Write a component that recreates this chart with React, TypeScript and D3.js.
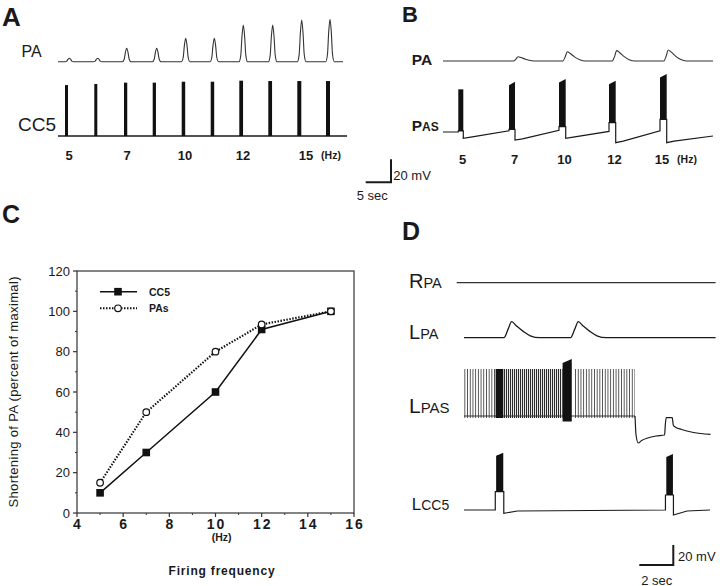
import React from "react";
import * as d3 from "d3";

const FONT = "'Liberation Sans', Arial, Helvetica, sans-serif";

// ---------- Panel C data ----------
const freqHz = [5, 7, 10, 12, 15];
const cc5Shortening = [10, 30, 60, 91, 100];
const pasShortening = [15, 50, 80, 93.5, 100];
const xTicksC = [4, 6, 8, 10, 12, 14, 16];
const xMinorC = [5, 7, 9, 11, 13, 15];
const yTicksC = [0, 20, 40, 60, 80, 100, 120];
const yMinorC = [10, 30, 50, 70, 90, 110];

// ---------- Panel A data (time in s, voltage in mV) ----------
const aFreqLabels = ["5", "7", "10", "12", "15"];
const aLabelTimes = [2.2, 13.8, 25.4, 37, 49.6];
const aPaPeakTimes = [2.26, 7.94, 13.74, 19.74, 25.54, 31.26, 37.06, 42.94, 48.74, 54.4];
const aPaPeakAmps = [3, 3, 11.7, 11.7, 20.3, 20.3, 31.9, 31.9, 36.3, 36.9];
const aCc5SpikeTimes = [1.4, 7.26, 13.2, 18.94, 24.74, 30.54, 36.26, 42.06, 47.86, 53.6];
const aCc5SpikeAmps = [44.3, 45.2, 46.4, 46.4, 47.2, 47.2, 48.1, 47.8, 47.8, 47.8];
const aCc5SpikeDur = [0.5, 0.5, 0.55, 0.55, 0.6, 0.6, 0.65, 0.65, 0.7, 0.7];

// ---------- Panel B data ----------
const bFreqLabels = ["5", "7", "10", "12", "15"];
const bLabelTimes = [3.9, 14.3, 24.3, 34.3, 43.8];
const bPaPeakTimes = [15, 24.86, 34.74, 45.06];
const bPaPeakAmps = [3.7, 8.1, 9, 9.6];
const bBurstStart = [3.06, 13.2, 23.2, 33.2, 43.4];
const bBurstDur = [1.0, 1.2, 1.34, 1.34, 1.34];
const bBurstTop = [37.1, 43.7, 46.1, 44.6, 50.4];
const bBurstPlateau = [0.9, 2.3, 4.6, 8.1, 11];
const bBurstPre = [0, 1, 1.5, 0.5, 1];
const bBurstAfter = [-5.5, -7, -5.5, -9.3, -9.3];
const bBurstRecovered = [-4.5, -6, -4.5, -8, -8];
const bTraceEndLevel = -3.5;

// ---------- Panel D data ----------
const dLpaPeakTimes = [2.8, 6.72];
const dLpaPeakAmps = [16, 16];
const dLpasSparse = [[0, 1.86], [6.53, 10.06]];
const dLpasDense = [[2.31, 5.8]];
const dLpasBlack = [[1.86, 2.31, 46, 46, -3], [5.8, 6.34, 52, 56, -6.5]];
const dLpasTailT = [10.06, 10.12, 10.25, 10.45, 10.8, 11.3, 11.8, 11.84, 11.9, 12.25, 12.31, 12.4, 12.8, 13.5, 14.5];
const dLpasTailV = [-1, -20, -28, -25.5, -23, -21, -20, -10, -2.7, -2.7, -10, -11.7, -14.5, -17.5, -19.3];
const dCc5BurstStart = [1.84, 11.85];
const dCc5BurstEnd = [2.34, 12.32];
const dCc5BurstTop = [57.3, 56];
const dCc5BurstPlateau = [18.3, 15];
const dCc5BurstAfter = [-3.3, -5];
const dCc5BurstRecovered = [-1, -1];

type P = [number, number];

function peakTrace(t0: number, t1: number, times: number[], amps: number[], offs: number[], shape: number[]): P[] {
  const pts: P[] = [[t0, 0]];
  times.forEach((t, i) => {
    offs.forEach((o, k) => pts.push([t + o, amps[i] * shape[k]]));
  });
  pts.push([t1, 0]);
  return pts;
}

function burstTrace(t0: number, t1: number, starts: number[], ends: number[], pre: number[], plateau: number[], after: number[], recovered: number[], recT: number, endLevel: number): P[] {
  const pts: P[] = [[t0, pre[0]]];
  starts.forEach((s, i) => {
    const e = ends[i];
    pts.push([s, pre[i]], [s, plateau[i]], [e, plateau[i]], [e, after[i]], [e + recT, recovered[i]]);
    const nextT = i < starts.length - 1 ? starts[i + 1] : t1;
    const nextV = i < starts.length - 1 ? pre[i + 1] : endLevel;
    pts.push([nextT, nextV]);
  });
  return pts;
}

export default function App() {
  // ---- Panel C scales ----
  const xC = d3.scaleLinear().domain([4, 16]).range([77, 354]);
  const yC = d3.scaleLinear().domain([0, 120]).range([513, 271]);
  const lineC = d3.line<number>().x((_, i) => xC(freqHz[i])).y((d) => yC(d));

  // ---- Panel A scales ----
  const xA = d3.scaleLinear().domain([0, 57]).range([58, 343]);
  const yApa = d3.scaleLinear().domain([0, 40]).range([61.7, 15.7]);
  const yAcc = d3.scaleLinear().domain([0, 40]).range([136, 90]);
  const lineApa = d3.line<P>().x((d) => xA(d[0])).y((d) => yApa(d[1])).curve(d3.curveMonotoneX);
  const aPaPts = peakTrace(0, 57, aPaPeakTimes, aPaPeakAmps, [-0.85, -0.5, -0.27, 0, 0.27, 0.5, 0.85], [0, 0.18, 0.68, 1, 0.68, 0.18, 0]);

  // ---- Panel B scales ----
  const xB = d3.scaleLinear().domain([0, 54]).range([443, 713]);
  const yBpa = d3.scaleLinear().domain([0, 40]).range([61, 15]);
  const yBpas = d3.scaleLinear().domain([0, 40]).range([132, 86]);
  const lineBpa = d3.line<P>().x((d) => xB(d[0])).y((d) => yBpa(d[1])).curve(d3.curveMonotoneX);
  const bPaPts = peakTrace(0, 54, bPaPeakTimes, bPaPeakAmps, [-0.9, -0.45, 0, 0.6, 1.5, 2.5, 3.6], [0, 0.4, 1, 0.8, 0.42, 0.13, 0]);
  const bEnds = bBurstStart.map((s, i) => s + bBurstDur[i]);
  const bPasPts = burstTrace(0, 54, bBurstStart, bEnds, bBurstPre, bBurstPlateau, bBurstAfter, bBurstRecovered, 1.5, bTraceEndLevel);
  const lineBpas = d3.line<P>().x((d) => xB(d[0])).y((d) => yBpas(d[1]));

  // ---- Panel D scales ----
  const xD = d3.scaleLinear().domain([0, 15]).range([464, 719]);
  const yDrpa = d3.scaleLinear().domain([0, 20]).range([282.7, 262.7]);
  const yDlpa = d3.scaleLinear().domain([0, 20]).range([337.7, 317.7]);
  const yDlpas = d3.scaleLinear().domain([0, 20]).range([415, 395]);
  const yDcc = d3.scaleLinear().domain([0, 20]).range([510, 490]);
  const lineDlpa = d3.line<P>().x((d) => xD(d[0])).y((d) => yDlpa(d[1])).curve(d3.curveMonotoneX);
  const dLpaPts = peakTrace(0, 14.8, dLpaPeakTimes, dLpaPeakAmps, [-0.45, -0.2, 0, 0.3, 0.7, 1.1, 1.65], [0, 0.55, 1, 0.72, 0.38, 0.12, 0]);
  const dLpasTail: P[] = dLpasTailT.map((t, i) => [t, dLpasTailV[i]]);
  const lineDlpas = d3.line<P>().x((d) => xD(d[0])).y((d) => yDlpas(d[1])).curve(d3.curveMonotoneX);
  const dCcPts = burstTrace(0, 14.47, dCc5BurstStart, dCc5BurstEnd, [0, 0], dCc5BurstPlateau, dCc5BurstAfter, dCc5BurstRecovered, 0.8, 0);
  const lineDcc = d3.line<P>().x((d) => xD(d[0])).y((d) => yDcc(d[1]));

  const ink = "#1a1a1a";

  return (
    <svg width={720} height={586} style={{ position: "absolute", left: 0, top: 0, background: "#fff" }} fontFamily={FONT}>
      <defs>
        <pattern id="sparse" width={2.7} height={10} patternUnits="userSpaceOnUse">
          <rect x={0} y={0} width={0.9} height={10} fill="#4a4a4a" />
        </pattern>
        <pattern id="dense" width={2} height={10} patternUnits="userSpaceOnUse">
          <rect x={0} y={0} width={1.1} height={10} fill="#2a2a2a" />
        </pattern>
      </defs>
      <rect x={0} y={0} width={720} height={586} fill="#fff" />

      {/* Panel letters */}
      <text x={2} y={26} fontSize={26} fontWeight="bold" fill={ink}>A</text>
      <text x={402} y={22} fontSize={22} fontWeight="bold" fill={ink}>B</text>
      <text x={2} y={223} fontSize={25} fontWeight="bold" fill={ink}>C</text>
      <text x={402} y={240} fontSize={25} fontWeight="bold" fill={ink}>D</text>

      {/* ===== Panel A ===== */}
      <text x={21.5} y={56.7} fontSize={16} fill={ink}>PA</text>
      <text x={18} y={130.7} fontSize={19} fill={ink}>CC5</text>
      <path d={lineApa(aPaPts) || ""} fill="none" stroke="#333" strokeWidth={1.1} />
      <line x1={xA(0)} x2={xA(57.8)} y1={yAcc(0)} y2={yAcc(0)} stroke={ink} strokeWidth={1.3} />
      {aCc5SpikeTimes.map((t, i) => (
        <rect key={i} x={xA(t)} y={yAcc(aCc5SpikeAmps[i])} width={xA(t + aCc5SpikeDur[i]) - xA(t) + 0.5} height={yAcc(0) - yAcc(aCc5SpikeAmps[i])} fill="#111" />
      ))}
      {aFreqLabels.map((l, i) => (
        <text key={i} x={xA(aLabelTimes[i])} y={160} fontSize={13} fontWeight="bold" textAnchor="middle" fill={ink}>{l}</text>
      ))}
      <text x={331} y={159} fontSize={10.5} fontWeight="bold" textAnchor="middle" fill={ink}>(Hz)</text>

      {/* scale bar A/B */}
      <path d="M365.7,182.3 H391 V159.3" fill="none" stroke={ink} strokeWidth={2} />
      <text x={393.3} y={179.7} fontSize={13} fill={ink}>20 mV</text>
      <text x={356.7} y={199.5} fontSize={13} fill={ink}>5 sec</text>

      {/* ===== Panel B ===== */}
      <text x={411.7} y={65} fontSize={15.5} fontWeight="bold" fill={ink}>PA</text>
      <text x={411.7} y={131} fill={ink} fontWeight="bold"><tspan fontSize={15.5}>P</tspan><tspan fontSize={12}>AS</tspan></text>
      <path d={lineBpa(bPaPts) || ""} fill="none" stroke="#333" strokeWidth={1.1} />
      <path d={lineBpas(bPasPts) || ""} fill="none" stroke={ink} strokeWidth={1.2} />
      {bBurstStart.map((s, i) => {
        const e = bEnds[i];
        const tl = i === 0 ? bBurstTop[i] : bBurstTop[i] - 3;
        const pts: P[] = [[s, bBurstPlateau[i]], [s, tl], [e, bBurstTop[i]], [e, bBurstPlateau[i]]];
        return <path key={i} d={d3.line<P>().x((d) => xB(d[0])).y((d) => yBpas(d[1]))(pts) + "Z"} fill="#111" />;
      })}
      {bFreqLabels.map((l, i) => (
        <text key={i} x={xB(bLabelTimes[i])} y={164} fontSize={13} fontWeight="bold" textAnchor="middle" fill={ink}>{l}</text>
      ))}
      <text x={687} y={163} fontSize={10.5} fontWeight="bold" textAnchor="middle" fill={ink}>(Hz)</text>

      {/* ===== Panel C ===== */}
      <rect x={xC(4)} y={yC(120)} width={xC(16) - xC(4)} height={yC(0) - yC(120)} fill="none" stroke="#333" strokeWidth={1.2} />
      {yTicksC.map((v) => (
        <g key={v}>
          <line x1={xC(4) - 4} x2={xC(4)} y1={yC(v)} y2={yC(v)} stroke="#333" strokeWidth={1.2} />
          <text x={70} y={yC(v) + 4.6} fontSize={13} textAnchor="end" fill={ink}>{v}</text>
        </g>
      ))}
      {yMinorC.map((v) => (
        <line key={v} x1={xC(4) - 2} x2={xC(4)} y1={yC(v)} y2={yC(v)} stroke="#333" strokeWidth={1} />
      ))}
      {xTicksC.map((v) => (
        <g key={v}>
          <line x1={xC(v)} x2={xC(v)} y1={yC(0)} y2={yC(0) + 4} stroke="#333" strokeWidth={1.2} />
          <text x={xC(v) + 1} y={528.5} fontSize={14} fontWeight="bold" letterSpacing={2} textAnchor="middle" fill={ink}>{v}</text>
        </g>
      ))}
      {xMinorC.map((v) => (
        <line key={v} x1={xC(v)} x2={xC(v)} y1={yC(0)} y2={yC(0) + 2} stroke="#333" strokeWidth={1} />
      ))}
      <text x={221.7} y={540.5} fontSize={10.5} fontWeight="bold" textAnchor="middle" fill={ink}>(Hz)</text>
      <text x={222} y={575} fontSize={12} fontWeight="bold" letterSpacing={0.8} textAnchor="middle" fill={ink}>Firing  frequency</text>
      <text transform="translate(17.5,392) rotate(-90)" fontSize={13} textAnchor="middle" fill={ink} textLength={231} lengthAdjust="spacing">Shortening of PA (percent of maximal)</text>

      <path d={lineC(cc5Shortening) || ""} fill="none" stroke="#111" strokeWidth={1.5} />
      <path d={lineC(pasShortening) || ""} fill="none" stroke="#111" strokeWidth={2.1} strokeDasharray="1.5 1.5" />
      {cc5Shortening.map((v, i) => (
        <rect key={i} x={xC(freqHz[i]) - 3.8} y={yC(v) - 3.8} width={7.6} height={7.6} fill="#111" />
      ))}
      {pasShortening.map((v, i) => (
        <circle key={i} cx={xC(freqHz[i])} cy={yC(v)} r={3.3} fill="#fff" stroke="#111" strokeWidth={1.2} />
      ))}
      {/* legend */}
      <line x1={100} x2={137} y1={291.7} y2={291.7} stroke="#111" strokeWidth={1.5} />
      <rect x={118 - 3.8} y={291.7 - 3.8} width={7.6} height={7.6} fill="#111" />
      <line x1={100} x2={137} y1={308.3} y2={308.3} stroke="#111" strokeWidth={2.1} strokeDasharray="1.5 1.5" />
      <circle cx={118} cy={308.3} r={3.3} fill="#fff" stroke="#111" strokeWidth={1.2} />
      <text x={149} y={296} fontSize={10.5} fontWeight="bold" fill={ink}>CC5</text>
      <text x={149} y={311.7} fontSize={10.5} fontWeight="bold" fill={ink}>PAs</text>

      {/* ===== Panel D ===== */}
      <text x={409} y={287.7} fill={ink}><tspan fontSize={20}>R</tspan><tspan fontSize={14.5}>PA</tspan></text>
      <text x={409} y={339.3} fill={ink}><tspan fontSize={20}>L</tspan><tspan fontSize={14.5}>PA</tspan></text>
      <text x={409} y={412.7} fill={ink}><tspan fontSize={21}>L</tspan><tspan fontSize={15}>PAS</tspan></text>
      <text x={411.7} y={510} fill={ink}><tspan fontSize={17}>L</tspan><tspan fontSize={14}>CC5</tspan></text>

      <line x1={xD(-0.43)} x2={xD(14.8)} y1={yDrpa(0)} y2={yDrpa(0)} stroke="#333" strokeWidth={1.2} />
      <path d={lineDlpa(dLpaPts) || ""} fill="none" stroke={ink} strokeWidth={1.3} />

      {dLpasSparse.map(([a, b], i) => (
        <rect key={"s" + i} x={xD(a)} y={yDlpas(46)} width={xD(b) - xD(a)} height={yDlpas(-3) - yDlpas(46)} fill="url(#sparse)" />
      ))}
      {dLpasDense.map(([a, b], i) => (
        <rect key={"d" + i} x={xD(a)} y={yDlpas(46)} width={xD(b) - xD(a)} height={yDlpas(-3) - yDlpas(46)} fill="url(#dense)" />
      ))}
      <line x1={xD(0)} x2={xD(10.06)} y1={yDlpas(-1)} y2={yDlpas(-1)} stroke="#333" strokeWidth={1} />
      {dLpasBlack.map(([a, b, tl, tr, bot], i) => {
        const pts: P[] = [[a, bot], [a, tl], [b, tr], [b, bot]];
        return <path key={"b" + i} d={d3.line<P>().x((d) => xD(d[0])).y((d) => yDlpas(d[1]))(pts) + "Z"} fill="#111" />;
      })}
      <path d={lineDlpas(dLpasTail) || ""} fill="none" stroke={ink} strokeWidth={1.2} />

      <path d={lineDcc(dCcPts) || ""} fill="none" stroke={ink} strokeWidth={1.2} />
      {dCc5BurstStart.map((s, i) => {
        const e = dCc5BurstEnd[i];
        const pts: P[] = [[s + 0.05, dCc5BurstPlateau[i]], [s + 0.05, dCc5BurstTop[i] - 3], [e - 0.03, dCc5BurstTop[i]], [e - 0.03, dCc5BurstPlateau[i]]];
        return <path key={i} d={d3.line<P>().x((d) => xD(d[0])).y((d) => yDcc(d[1]))(pts) + "Z"} fill="#111" />;
      })}

      <path d="M639.3,565 H673.3 V545" fill="none" stroke={ink} strokeWidth={2} />
      <text x={678} y={561.3} fontSize={13} fill={ink}>20 mV</text>
      <text x={656.7} y={584.5} fontSize={13} textAnchor="middle" fill={ink}>2 sec</text>
    </svg>
  );
}
